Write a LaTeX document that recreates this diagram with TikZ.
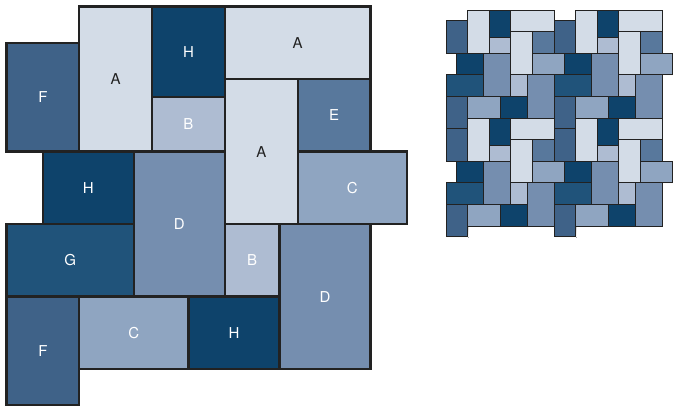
\documentclass[tikz,border=0pt]{standalone}
\usepackage{fontspec}
\setmainfont{TeX Gyre Heros}
\definecolor{cA}{HTML}{D3DCE7}
\definecolor{cB}{HTML}{AEBCD2}
\definecolor{cC}{HTML}{8FA5C1}
\definecolor{cD}{HTML}{758EAF}
\definecolor{cE}{HTML}{58789C}
\definecolor{cF}{HTML}{3F6288}
\definecolor{cG}{HTML}{20537A}
\definecolor{cH}{HTML}{0E436B}
\definecolor{edge}{HTML}{222222}
\definecolor{shade}{HTML}{8A8A8A}
\newcommand\tilelist[1]{%
#1{0}{2}{4}{8}{F}%
#1{4}{0}{8}{8}{A}%
#1{8}{0}{12}{5}{H}%
#1{8}{5}{12}{8}{B}%
#1{12}{0}{20}{4}{A}%
#1{12}{4}{16}{12}{A}%
#1{16}{4}{20}{8}{E}%
#1{2}{8}{7}{12}{H}%
#1{7}{8}{12}{16}{D}%
#1{16}{8}{22}{12}{C}%
#1{0}{12}{7}{16}{G}%
#1{12}{12}{15}{16}{B}%
#1{15}{12}{20}{20}{D}%
#1{0}{16}{4}{22}{F}%
#1{4}{16}{10}{20}{C}%
#1{10}{16}{15}{20}{H}%
}
\newcommand\bigtile[5]{\node[bigt, t#5, minimum width={(#3-#1)*18.2pt}, minimum height={(#4-#2)*18.13pt}] (big#5#1x#2) at ({6.5+(#1+#3)*9.1}, {-6.5-(#2+#4)*9.065}) {#5};}
\newcommand\smallshadow[5]{\fill[shade] (#1,#2) rectangle (#3,#4);}
\newcommand\smalltile[5]{\draw[smallt, fill=c#5] (#1,#2) rectangle (#3,#4);}
\tikzset{
  bigt/.style={draw=edge, line width=2.2pt, rectangle, inner sep=0pt, font=\fontsize{15}{18}\selectfont, text=white},
  tA/.style={fill=cA, text=edge},
  tB/.style={fill=cB},
  tC/.style={fill=cC},
  tD/.style={fill=cD},
  tE/.style={fill=cE},
  tF/.style={fill=cF},
  tG/.style={fill=cG},
  tH/.style={fill=cH},
  smallt/.style={draw=edge, line width=0.8pt},
}
\begin{document}
\begin{tikzpicture}[x=1pt,y=1pt]
\useasboundingbox (0,0) rectangle (673,-407);
\tilelist{\bigtile}
\foreach \ox/\oy in {0/0,20/0,0/20,20/20}{
  \begin{scope}[shift={(446.9+\ox*5.4,-10.9-\oy*5.4)}, x=5.4pt, y=-5.4pt]
    \tilelist{\smallshadow}
  \end{scope}
}
\foreach \ox/\oy in {0/0,20/0,0/20,20/20}{
  \begin{scope}[shift={(446+\ox*5.4,-10-\oy*5.4)}, x=5.4pt, y=-5.4pt]
    \tilelist{\smalltile}
  \end{scope}
}
\end{tikzpicture}
\end{document}
